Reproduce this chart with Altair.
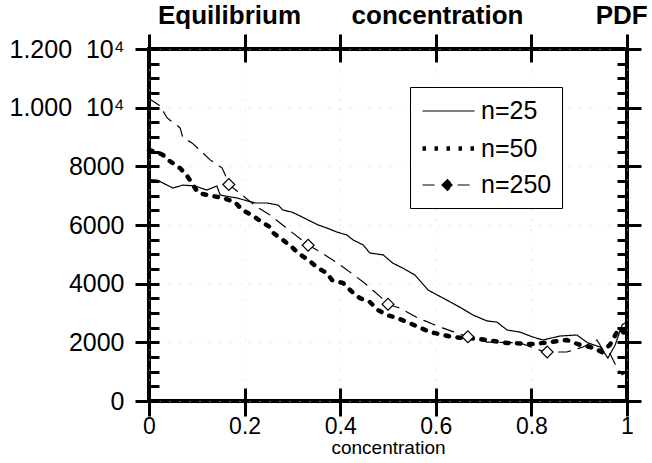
import altair as alt
import pandas as pd

# ---- data ----
series_names = ["n=25", "n=50", "n=250"]

x25 = [0, 0.017, 0.05, 0.071, 0.096, 0.121, 0.142, 0.149, 0.184, 0.222,
       0.247, 0.27, 0.28, 0.299, 0.312, 0.333, 0.354, 0.372, 0.393, 0.414,
       0.427, 0.448, 0.462, 0.49, 0.51, 0.531, 0.556, 0.584, 0.623, 0.65,
       0.678, 0.707, 0.728, 0.749, 0.776, 0.803, 0.824, 0.86, 0.895, 0.918,
       0.944, 0.96, 0.975, 0.99, 1.0]
y25 = [7550, 7530, 7260, 7360, 7330, 7190, 7330, 7020, 6920, 6750,
       6750, 6680, 6510, 6440, 6340, 6170, 6000, 5900, 5760, 5660,
       5490, 5320, 5045, 4980, 4700, 4530, 4300, 3780, 3440, 3200,
       2930, 2730, 2690, 2420, 2350, 2180, 2080, 2215, 2250, 1980,
       1840, 1465, 1900, 2600, 2700]

x50 = [0, 0.015, 0.029, 0.04, 0.065, 0.08, 0.103, 0.132, 0.155, 0.18,
       0.195, 0.215, 0.236, 0.253, 0.26, 0.28, 0.299, 0.312, 0.333, 0.354,
       0.372, 0.383, 0.406, 0.425, 0.441, 0.462, 0.479, 0.498, 0.519, 0.54,
       0.588, 0.636, 0.692, 0.749, 0.803, 0.839, 0.874, 0.902, 0.923, 0.948,
       0.964, 0.979, 0.985, 1.0]
y50 = [8550, 8500, 8390, 8220, 7940, 7670, 7090, 6990, 6920, 6780,
       6510, 6340, 6100, 5930, 5730, 5490, 5250, 5045, 4810, 4530,
       4360, 4120, 4020, 3720, 3510, 3375, 3100, 2930, 2830, 2690,
       2350, 2180, 2110, 1980, 1940, 2010, 2080, 1910, 1840, 1670,
       1910, 2350, 2490, 2200]

x250 = [0, 0.008, 0.023, 0.038, 0.065, 0.071, 0.09, 0.113, 0.128, 0.153,
        0.169, 0.184, 0.226, 0.253, 0.285, 0.333, 0.358, 0.40, 0.448, 0.504,
        0.525, 0.56, 0.609, 0.667, 0.707, 0.776, 0.828, 0.874, 0.908, 0.937,
        0.95, 0.965, 0.98, 0.99, 1.0]
y250 = [10300, 10230, 10060, 9650, 9310, 8970, 8800, 8450, 8220, 7940,
        7360, 7160, 6610, 6340, 5930, 5320, 5080, 4640, 4060, 3270,
        3170, 2850, 2520, 2190, 2010, 1980, 1670, 1670, 1840, 2080,
        1740, 1600, 1100, 900, 1000]

# diamond markers on the n=250 curve
xd = [0.167, 0.333, 0.5, 0.667, 0.833]
yd = [7380, 5310, 3300, 2190, 1670]

x_ticks = [0, 0.2, 0.4, 0.6, 0.8, 1]
y_ticks = list(range(0, 12001, 500))

rows = []
for name, xs, ys in [("n=25", x25, y25), ("n=50", x50, y50), ("n=250", x250, y250)]:
    for a, b in zip(xs, ys):
        rows.append({"series": name, "x": a, "y": b})
df = pd.DataFrame(rows)
dd = pd.DataFrame({"x": xd, "y": yd})

FONT = "Liberation Sans"
NB = "\u00a0"
major = "datum.value % 2000 === 0"

xscale = alt.Scale(domain=[0, 1], nice=False, zero=False)
yscale = alt.Scale(domain=[0, 12000], nice=False)

line_path = "M-1,0H3"
diam_path = "M-1,0H0.15M0.5,0L0.92,-0.42L1.34,0L0.92,0.42ZM1.7,0H3"

legend = alt.Legend(
    title=None, orient="none", legendX=261, legendY=38,
    strokeColor="black", fillColor="white", padding=10,
    labelFont=FONT, labelFontSize=25, labelColor="black",
    symbolType=alt.ExprRef(expr=f"datum.value === 'n=250' ? '{diam_path}' : '{line_path}'"),
    symbolDash=alt.ExprRef(expr="datum.value === 'n=50' ? [3.5, 8.5] : [1000, 0]"),
    symbolFillColor=alt.ExprRef(expr="datum.value === 'n=250' ? 'black' : 'transparent'"),
    symbolSize=676, labelOffset=30, rowPadding=9,
    symbolStrokeColor="black",
)

y_label_expr = (
    f"{major} ? (datum.value >= 10000 ? format(datum.value / 10000, '.3f') + '{NB}{NB}10\u2074' "
    f": format(datum.value, 'd')) : ''"
)

lines = alt.Chart(df).mark_line(strokeCap="round").encode(
    x=alt.X("x:Q", scale=xscale, axis=alt.Axis(
        orient="bottom", values=x_ticks, offset=-13, tickSize=28, tickWidth=3,
        tickColor="black", domain=False, labelFont=FONT, labelFontSize=23,
        labelColor="black", labelPadding=-1, labelFlush=False, labelOverlap=False,
        labelExpr="datum.value == 0 ? '0' : datum.value == 1 ? '1' : format(datum.value, '.1f')",
        title="concentration", titleFont=FONT, titleFontSize=19,
        titleFontWeight="normal", titleColor="black", titlePadding=0,
        grid=True, gridColor="#cccccc", gridDash=[1, 9], gridWidth=1)),
    y=alt.Y("y:Q", scale=yscale, axis=alt.Axis(
        orient="left", values=y_ticks, offset=-10,
        tickSize={"condition": {"test": major, "value": 24}, "value": 10},
        tickWidth=3, tickColor="black", domain=False,
        labelFont=FONT, labelFontSize=25, labelColor="black", labelPadding=11,
        labelOverlap=False, labelFlush=False, labelExpr=y_label_expr,
        title=None, grid=True, gridColor="#cccccc", gridDash=[1, 9], gridWidth=1,
        gridOpacity={"condition": {"test": major, "value": 1}, "value": 0})),
    color=alt.Color("series:N", scale=alt.Scale(
        domain=series_names, range=["black", "black", "black"]), legend=legend),
    strokeDash=alt.StrokeDash("series:N", scale=alt.Scale(
        domain=series_names, range=[[1, 0], [3.5, 8.5], [12, 8]]), legend=None),
    strokeWidth=alt.StrokeWidth("series:N", scale=alt.Scale(
        type="ordinal", domain=series_names, range=[1.2, 4.5, 1.2]), legend=None),
)

pts = alt.Chart(dd).mark_point(
    shape="diamond", size=140, filled=True, fill="white", stroke="black",
    strokeWidth=1.2, opacity=1
).encode(
    x=alt.X("x:Q", scale=xscale, axis=alt.Axis(
        orient="top", values=x_ticks, offset=-13, tickSize=28, tickWidth=3,
        tickColor="black", domain=False, labels=False, title=None, grid=False)),
    y=alt.Y("y:Q", scale=yscale, axis=alt.Axis(
        orient="right", values=y_ticks, offset=-10,
        tickSize={"condition": {"test": major, "value": 24}, "value": 10},
        tickWidth=3, tickColor="black", domain=False, labels=False,
        title=None, grid=False)),
)

title_text = "Equilibrium" + NB * 7 + "concentration" + NB * 10 + "PDF"

chart = alt.layer(lines, pts).resolve_axis(
    x="independent", y="independent"
).properties(
    width=478, height=352,
    title=alt.TitleParams(text=title_text, font=FONT, fontSize=26,
                          fontWeight="bold", color="black", anchor="start",
                          frame="group", dx=9, dy=25, offset=8,
                          baseline="alphabetic"),
    autosize=alt.AutoSizeParams(type="none"),
    padding={"left": 149, "top": 49, "right": 25, "bottom": 62},
).configure(background="white", font=FONT).configure_view(
    stroke="black", strokeWidth=4
)

chart.save("out.html", embed_options={"renderer": "svg", "actions": False})
